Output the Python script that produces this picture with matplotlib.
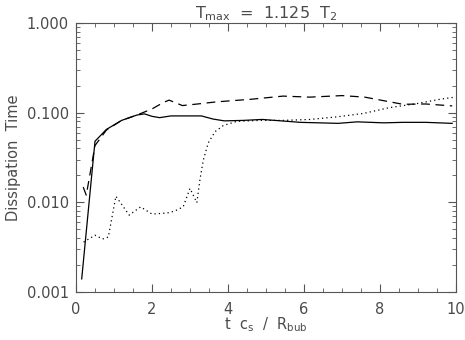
import matplotlib
matplotlib.use('Agg')
import matplotlib.pyplot as plt
from matplotlib.ticker import FixedLocator, LogLocator, NullFormatter, FixedFormatter

# Solid curve
t_solid = [0.15, 0.5, 0.8, 1.2, 1.6, 1.8, 2.0, 2.2, 2.5, 3.0, 3.3, 3.6, 3.9, 4.4, 4.9, 5.4,
           5.9, 6.4, 6.9, 7.4, 8.1, 8.6, 9.2, 9.9]
v_solid = [0.0014, 0.048, 0.065, 0.082, 0.094, 0.097, 0.091, 0.088, 0.092, 0.092, 0.092, 0.085,
           0.081, 0.082, 0.084, 0.081, 0.078, 0.077, 0.076, 0.079, 0.077, 0.078, 0.078, 0.076]

# Dashed curve
t_dash = [0.19, 0.27, 0.5, 0.8, 1.2, 1.6, 2.0, 2.3, 2.45, 2.8, 3.2, 3.7, 4.6, 5.45, 6.15, 7.0,
          7.6, 8.26, 8.6, 9.2, 9.9]
v_dash = [0.0148, 0.012, 0.043, 0.064, 0.082, 0.094, 0.11, 0.13, 0.138, 0.12, 0.125, 0.132,
          0.141, 0.153, 0.149, 0.155, 0.149, 0.132, 0.124, 0.125, 0.119]

# Dotted curve
t_dot = [0.2, 0.5, 0.7, 0.85, 1.05, 1.4, 1.7, 2.0, 2.4, 2.6, 2.82, 3.0, 3.18, 3.26, 3.35, 3.48,
         3.66, 3.88, 4.23, 4.84, 5.45, 6.15, 6.86, 7.56, 8.26, 8.96, 9.58, 9.97]
v_dot = [0.0036, 0.0043, 0.0039, 0.0041, 0.0117, 0.0072, 0.0089, 0.0074, 0.0076, 0.008,
         0.0089, 0.0143, 0.0099, 0.0177, 0.0296, 0.046, 0.0615, 0.072, 0.080, 0.082, 0.082,
         0.084, 0.0897, 0.098, 0.114, 0.126, 0.141, 0.149]

x_ticks = [0, 2, 4, 6, 8, 10]
x_labels = ['0', '2', '4', '6', '8', '10']
y_ticks = [0.001, 0.01, 0.1, 1.0]
y_labels = ['0.001', '0.010', '0.100', '1.000']

txt = '#4a4a4a'
plt.rcParams['font.family'] = ['DejaVu Sans']
fig = plt.figure(figsize=(4.65, 3.40), dpi=100)
ax = fig.add_axes([76 / 465, 1 - 292 / 340, 380 / 465, 269 / 340])

ax.plot(t_solid, v_solid, color='black', lw=0.9, ls='-')
ax.plot(t_dash, v_dash, color='black', lw=0.9, ls=(0, (7, 4.5)))
ax.plot(t_dot, v_dot, color='black', lw=0.9, ls=(0, (1, 2.5)))

ax.set_yscale('log')
ax.set_xlim(0, 10)
ax.set_ylim(0.001, 1.0)
ax.xaxis.set_major_locator(FixedLocator(x_ticks))
ax.xaxis.set_major_formatter(FixedFormatter(x_labels))
ax.xaxis.set_minor_locator(FixedLocator([i * 0.5 for i in range(21)]))
ax.yaxis.set_major_locator(FixedLocator(y_ticks))
ax.yaxis.set_major_formatter(FixedFormatter(y_labels))
ax.yaxis.set_minor_locator(LogLocator(base=10, subs=range(2, 10)))
ax.yaxis.set_minor_formatter(NullFormatter())

ax.tick_params(which='both', direction='in', top=True, right=True, colors='#555555',
               labelcolor=txt, labelsize=10.5)
ax.tick_params(which='major', length=6, width=0.8)
ax.tick_params(which='minor', length=3, width=0.6)
ax.tick_params(axis='x', pad=7)
ax.tick_params(axis='y', pad=5)
for s in ax.spines.values():
    s.set_color('#555555')
    s.set_linewidth(0.8)

ax.set_title(r'T$_{\rm max}$  =  1.125  T$_{2}$', color=txt, fontsize=11.5, pad=3)
ax.set_xlabel(r't  c$_{\rm s}$  /  R$_{\rm bub}$', color=txt, fontsize=10.5, labelpad=-1)
ax.set_ylabel('Dissipation  Time', color=txt, fontsize=10.5, labelpad=4)

fig.savefig('out.png', dpi=100)
